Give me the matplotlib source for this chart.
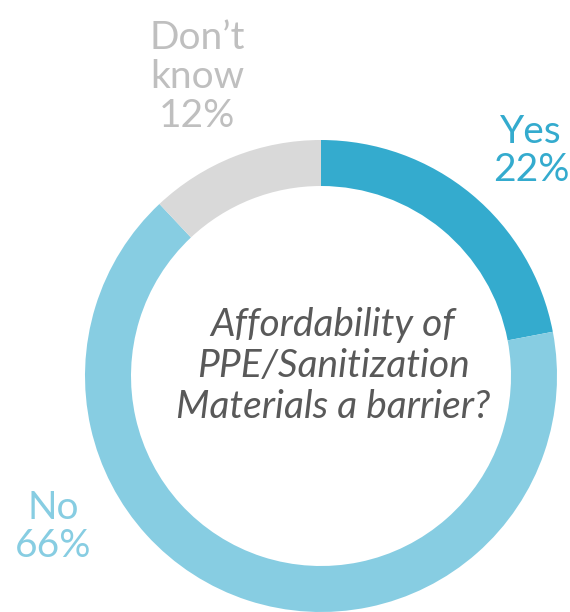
import matplotlib
matplotlib.use("Agg")
import matplotlib.pyplot as plt

# Survey answers, clockwise from 12 o'clock
answers = ["Yes", "No", "Don\u2019t\nknow"]
shares = [22, 66, 12]
ring_colors = ["#34ABCE", "#87CDE2", "#D9D9D9"]
label_colors = ["#34ABCE", "#87CDE2", "#BFBFBF"]
question = "Affordability of\nPPE/Sanitization\nMaterials a barrier?"

plt.rcParams["font.family"] = ["Lato", "DejaVu Sans"]

W, H = 570, 612
fig = plt.figure(figsize=(W / 100, H / 100), dpi=100)
ax = fig.add_axes([0, 0, 1, 1])


def py(y):
    # pixel row (from top) -> data y
    return H - y


cx, cy = 321, py(376)
ax.pie(shares, colors=ring_colors, startangle=90, counterclock=False,
       radius=236, center=(cx, cy), frame=True,
       wedgeprops=dict(width=46, linewidth=0))
ax.set_xlim(0, W)
ax.set_ylim(0, H)
ax.axis("off")

# outside labels
label_pos = [(531, 151), (53, 527), (197, 77)]
for name, val, col, (x, y) in zip(answers, shares, label_colors, label_pos):
    ax.text(x, py(y), f"{name}\n{val}%", color=col, fontsize=28,
            ha="center", va="center", linespacing=1.1)

ax.text(333, py(366), question, color="#595959", fontsize=28, style="italic",
        ha="center", va="center", linespacing=1.17)

fig.savefig("out.png", dpi=100)
